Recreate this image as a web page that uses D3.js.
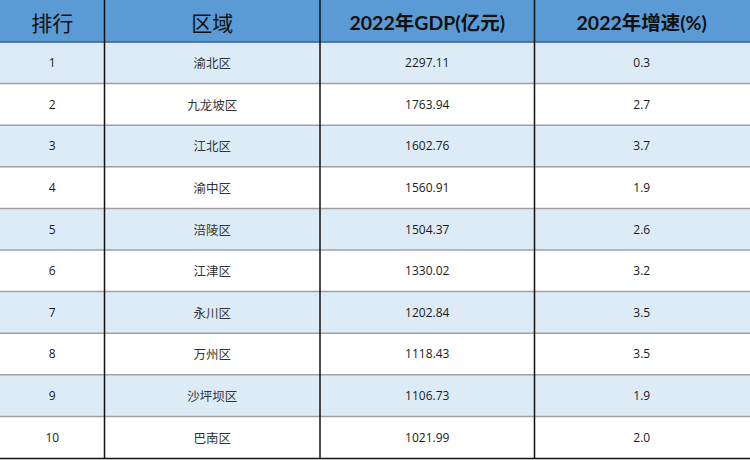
<!DOCTYPE html>
<html>
<head>
<meta charset="utf-8">
<script src="https://cdn.jsdelivr.net/npm/d3@7"></script>
<style>
  html, body { margin: 0; padding: 0; background: #fff; }
  svg { display: block; }
</style>
</head>
<body>
<div id="chart"></div>
<script>
const headers = ['排行', '区域', '2022年GDP(亿元)', '2022年增速(%)'];
const ranks = [1, 2, 3, 4, 5, 6, 7, 8, 9, 10];
const districts = ['渝北区', '九龙坡区', '江北区', '渝中区', '涪陵区', '江津区', '永川区', '万州区', '沙坪坝区', '巴南区'];
const gdp = ['2297.11', '1763.94', '1602.76', '1560.91', '1504.37', '1330.02', '1202.84', '1118.43', '1106.73', '1021.99'];
const growth = ['0.3', '2.7', '3.7', '1.9', '2.6', '3.2', '3.5', '3.5', '1.9', '2.0'];

const width = 750, height = 460;
const headH = 42;
const colEdges = [0, 104.5, 320, 534.5, 749];

const rows = ranks.map((r, i) => [r, districts[i], gdp[i], growth[i]]);

const svg = d3.select('#chart').append('svg')
  .attr('width', width)
  .attr('height', height);

const y = d3.scaleBand()
  .domain(d3.range(rows.length))
  .range([headH, 458]);

// header
svg.append('rect')
  .attr('x', 0).attr('y', 0)
  .attr('width', width).attr('height', headH)
  .attr('fill', '#5b9bd5');

svg.selectAll('.head')
  .data(headers)
  .enter().append('text')
    .attr('class', 'head')
    .attr('x', (d, i) => (colEdges[i] + colEdges[i + 1]) / 2)
    .attr('y', headH / 2 + 1)
    .attr('text-anchor', 'middle')
    .attr('dominant-baseline', 'central')
    .style('font-family', (d, i) => i < 2 ? '"Noto Sans CJK SC", sans-serif' : 'Lato, "Noto Sans CJK SC", sans-serif')
    .style('font-size', (d, i) => i < 2 ? '21px' : '19.5px')
    .style('font-weight', (d, i) => i < 2 ? 'normal' : 'bold')
    .attr('fill', '#111')
    .text(d => d);

// body rows
const row = svg.selectAll('.row')
  .data(rows)
  .enter().append('g')
    .attr('class', 'row')
    .attr('transform', (d, i) => `translate(0,${y(i)})`);

row.append('rect')
  .attr('width', width)
  .attr('height', y.bandwidth())
  .attr('fill', (d, i) => i % 2 === 0 ? '#ddebf7' : '#ffffff');

row.selectAll('text')
  .data(d => d)
  .enter().append('text')
    .attr('x', (d, i) => (colEdges[i] + colEdges[i + 1]) / 2)
    .attr('y', y.bandwidth() / 2)
    .attr('text-anchor', 'middle')
    .attr('dominant-baseline', 'central')
    .style('font-family', (d, i) => i === 1 ? '"Noto Sans CJK SC", sans-serif' : '"Open Sans", sans-serif')
    .style('font-size', (d, i) => i === 1 ? '12.5px' : '12px')
    .attr('fill', (d, i) => i === 1 ? '#333' : '#1a1a1a')
    .text(d => d);

// horizontal grid lines
svg.selectAll('.hline')
  .data(d3.range(1, rows.length))
  .enter().append('line')
    .attr('x1', 0).attr('x2', width)
    .attr('y1', i => y(i)).attr('y2', i => y(i))
    .attr('stroke', '#a0a0a0')
    .attr('stroke-width', 1.5);

svg.append('line')
  .attr('x1', 0).attr('x2', width)
  .attr('y1', headH).attr('y2', headH)
  .attr('stroke', '#3a5f86')
  .attr('stroke-width', 1.5);

svg.append('line')
  .attr('x1', 0).attr('x2', width)
  .attr('y1', 458.5).attr('y2', 458.5)
  .attr('stroke', '#111')
  .attr('stroke-width', 1.5);

// vertical lines
svg.selectAll('.vline')
  .data(colEdges.slice(1, 4))
  .enter().append('line')
    .attr('x1', d => d).attr('x2', d => d)
    .attr('y1', 0).attr('y2', 459)
    .attr('stroke', '#111')
    .attr('stroke-width', 1.5);
</script>
</body>
</html>
